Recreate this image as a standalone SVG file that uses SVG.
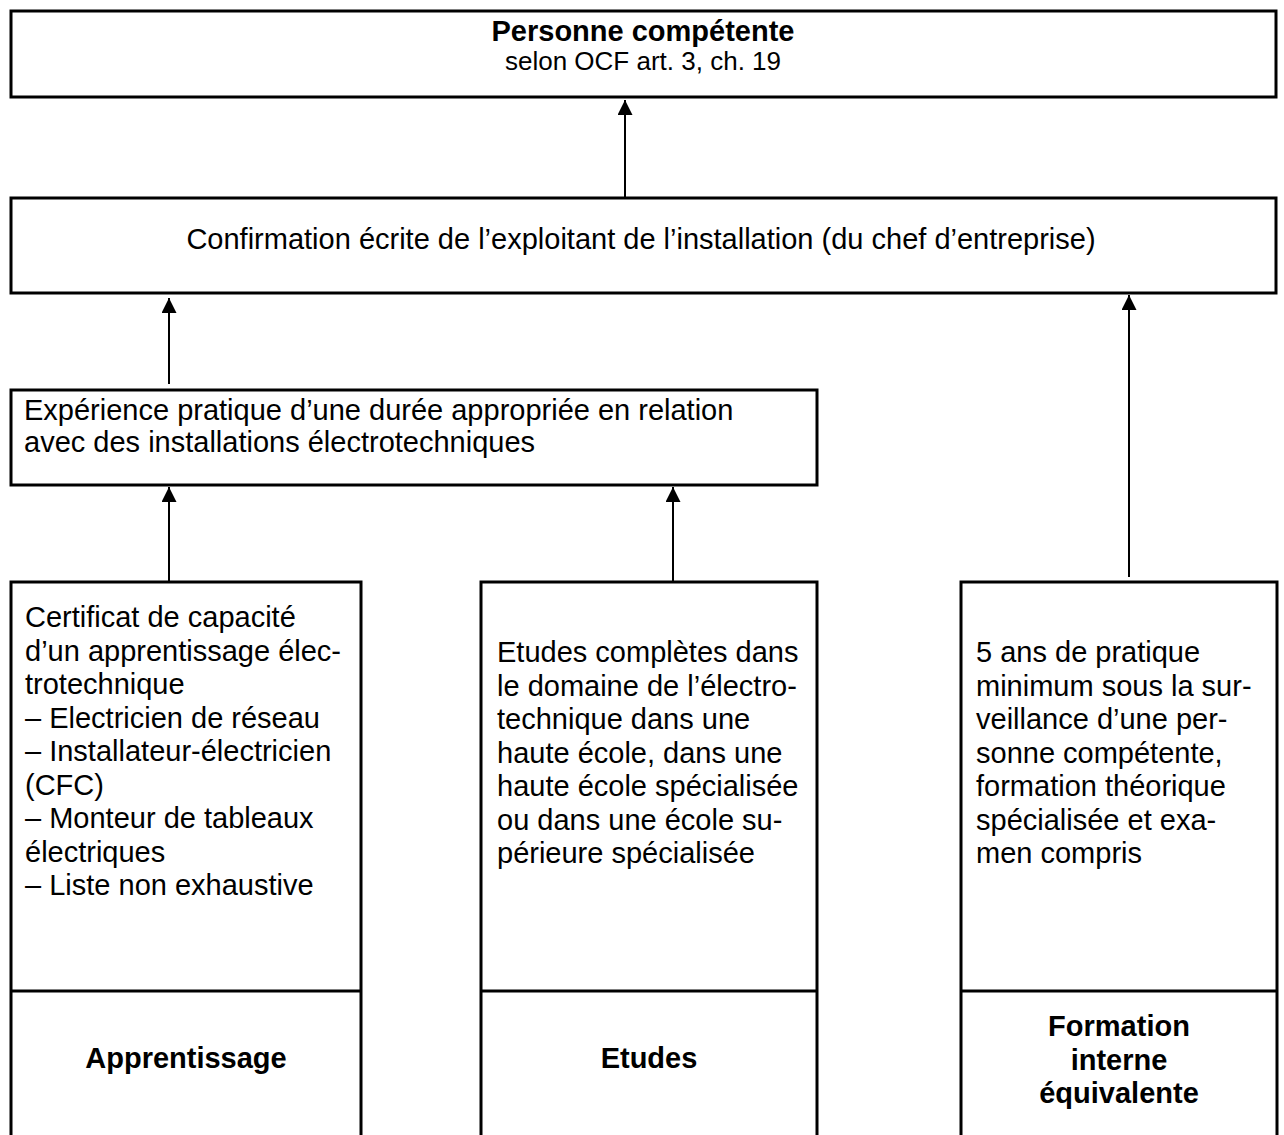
<svg xmlns="http://www.w3.org/2000/svg" width="1284" height="1135" viewBox="0 0 1284 1135">
<style>
.box{fill:#fff;stroke:#000;stroke-width:3}
.t{font-family:"Liberation Sans",Arial,sans-serif;font-size:29px;fill:#000}
.b{font-weight:bold}
.c{text-anchor:middle}
.con{stroke:#000;stroke-width:2;fill:none}
</style>
<defs>
<marker id="ah" markerUnits="userSpaceOnUse" markerWidth="16" markerHeight="16" refX="15" refY="7.5" orient="auto">
<path d="M0,0 L15,7.5 L0,15 Z" fill="#000"/>
</marker>
</defs>
<rect x="0" y="0" width="1284" height="1135" fill="#fff"/>
<g id="personne">
<rect class="box" x="11" y="11" width="1265" height="86"/>
<text class="t b c" x="643" y="41">Personne compétente</text>
<text class="t c" x="643" y="70" style="font-size:26px">selon OCF art. 3, ch. 19</text>
</g>
<g id="confirmation">
<rect class="box" x="11" y="198" width="1265" height="95"/>
<text class="t c" x="641" y="249">Confirmation écrite de l’exploitant de l’installation (du chef d’entreprise)</text>
</g>
<g id="experience">
<rect class="box" x="11" y="390" width="806" height="95"/>
<text class="t" x="24" y="420">Expérience pratique d’une durée appropriée en relation</text>
<text class="t" x="24" y="452">avec des installations électrotechniques</text>
</g>
<g id="apprentissage">
<rect class="box" x="11" y="582" width="350" height="560"/>
<line x1="11" y1="991" x2="361" y2="991" stroke="#000" stroke-width="3"/>
<text class="t" x="25" y="627">Certificat de capacité</text>
<text class="t" x="25" y="660.5">d’un apprentissage élec-</text>
<text class="t" x="25" y="694">trotechnique</text>
<text class="t" x="25" y="727.5">– Electricien de réseau</text>
<text class="t" x="25" y="761">– Installateur-électricien</text>
<text class="t" x="25" y="794.5">(CFC)</text>
<text class="t" x="25" y="828">– Monteur de tableaux</text>
<text class="t" x="25" y="861.5">électriques</text>
<text class="t" x="25" y="895">– Liste non exhaustive</text>
<text class="t b c" x="186" y="1068">Apprentissage</text>
</g>
<g id="etudes">
<rect class="box" x="481" y="582" width="336" height="560"/>
<line x1="481" y1="991" x2="817" y2="991" stroke="#000" stroke-width="3"/>
<text class="t" x="497" y="662">Etudes complètes dans</text>
<text class="t" x="497" y="695.5">le domaine de l’électro-</text>
<text class="t" x="497" y="729">technique dans une</text>
<text class="t" x="497" y="762.5">haute école, dans une</text>
<text class="t" x="497" y="796">haute école spécialisée</text>
<text class="t" x="497" y="829.5">ou dans une école su-</text>
<text class="t" x="497" y="863">périeure spécialisée</text>
<text class="t b c" x="649" y="1068">Etudes</text>
</g>
<g id="formation">
<rect class="box" x="961" y="582" width="316" height="560"/>
<line x1="961" y1="991" x2="1277" y2="991" stroke="#000" stroke-width="3"/>
<text class="t" x="976" y="662">5 ans de pratique</text>
<text class="t" x="976" y="695.5">minimum sous la sur-</text>
<text class="t" x="976" y="729">veillance d’une per-</text>
<text class="t" x="976" y="762.5">sonne compétente,</text>
<text class="t" x="976" y="796">formation théorique</text>
<text class="t" x="976" y="829.5">spécialisée et exa-</text>
<text class="t" x="976" y="863">men compris</text>
<text class="t b c" x="1119" y="1036">Formation</text>
<text class="t b c" x="1119" y="1069.5">interne</text>
<text class="t b c" x="1119" y="1103">équivalente</text>
</g>
<g id="connectors">
<line class="con" x1="625" y1="197" x2="625" y2="100" marker-end="url(#ah)"/>
<line class="con" x1="169" y1="384" x2="169" y2="298" marker-end="url(#ah)"/>
<line class="con" x1="169" y1="582" x2="169" y2="487" marker-end="url(#ah)"/>
<line class="con" x1="673" y1="582" x2="673" y2="487" marker-end="url(#ah)"/>
<line class="con" x1="1129" y1="577" x2="1129" y2="295" marker-end="url(#ah)"/>
</g>
</svg>
